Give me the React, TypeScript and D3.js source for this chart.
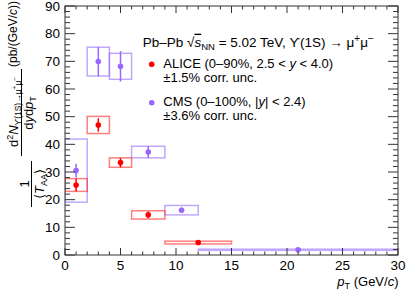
import React from 'react';
import * as d3 from 'd3';

// ALICE 0-90%, 2.5 < y < 4.0
const aliceLo = [0, 2, 4, 6, 9];
const aliceHi = [2, 4, 6, 9, 15];
const aliceX = [1, 3, 5, 7.5, 12];
const aliceY = [25.3, 47.0, 33.4, 14.5, 4.5];
const aliceStat = [2.3, 2.4, 1.7, 1.2, 0.3];
const aliceSys = [2.3, 3.1, 1.7, 1.5, 0.5];

// CMS 0-100%, |y| < 2.4
const cmsLo = [0, 2, 4, 6, 9, 12];
const cmsHi = [2, 4, 6, 9, 12, 30];
const cmsX = [1, 3, 5, 7.5, 10.5, 21];
const cmsY = [30.5, 69.9, 68.2, 37.2, 16.2, 1.9];
const cmsStat = [2.5, 5.3, 5.5, 2.1, 1.0, 0.2];
const cmsSys = [11.4, 5.2, 4.7, 2.1, 1.7, 0.2];

const xTicks = [0, 5, 10, 15, 20, 25, 30];
const yTicks = [0, 10, 20, 30, 40, 50, 60, 70, 80, 90];

const W = 407, H = 294;
const L = 65, R = 398, T = 6, B = 255;
const FONT = '"Liberation Sans", Arial, Helvetica, sans-serif';
const RED = '#ff0000';
const RED_BOX = 'rgba(255,40,40,0.6)';
const PUR = '#9966ff';
const PUR_BOX = 'rgba(150,110,255,0.6)';

function Series({ lo, hi, xs, ys, stat, sys, color, boxColor, x, y }) {
  return (
    <g>
      {xs.map((_, i) => (
        <rect key={'b' + i} x={x(lo[i])} y={y(ys[i] + sys[i])}
          width={x(hi[i]) - x(lo[i])} height={Math.max(y(ys[i] - sys[i]) - y(ys[i] + sys[i]), 1)}
          fill="none" stroke={boxColor} strokeWidth={1.5} />
      ))}
      {xs.map((xv, i) => (
        <line key={'e' + i} x1={x(xv)} x2={x(xv)} y1={y(ys[i] + stat[i])} y2={y(ys[i] - stat[i])}
          stroke={color} strokeWidth={1.5} />
      ))}
      {xs.map((xv, i) => (
        <circle key={'m' + i} cx={x(xv)} cy={y(ys[i])} r={2.8} fill={color} />
      ))}
    </g>
  );
}

export default function App() {
  const x = d3.scaleLinear().domain([0, 30]).range([L, R]);
  const y = d3.scaleLinear().domain([0, 90]).range([B, T]);
  const xMinor = d3.range(0, 31, 1);
  const yMinor = d3.range(0, 91, 2);
  const axisColor = '#333';

  return (
    <svg width={W} height={H} style={{ position: 'absolute', left: 0, top: 0, background: '#fff' }}
      fontFamily={FONT}>
      <defs>
        <clipPath id="frame"><rect x={L} y={T} width={R - L} height={B - T} /></clipPath>
      </defs>

      {/* data */}
      <g clipPath="url(#frame)">
        <Series lo={cmsLo} hi={cmsHi} xs={cmsX} ys={cmsY} stat={cmsStat} sys={cmsSys}
          color={PUR} boxColor={PUR_BOX} x={x} y={y} />
        <Series lo={aliceLo} hi={aliceHi} xs={aliceX} ys={aliceY} stat={aliceStat} sys={aliceSys}
          color={RED} boxColor={RED_BOX} x={x} y={y} />
      </g>

      {/* ticks, inside on all four sides */}
      <g stroke={axisColor} strokeWidth={1}>
        {xMinor.map(v => {
          const len = v % 5 === 0 ? 7 : 3.5;
          return (
            <g key={'xt' + v}>
              <line x1={x(v)} x2={x(v)} y1={B} y2={B - len} />
              <line x1={x(v)} x2={x(v)} y1={T} y2={T + len} />
            </g>
          );
        })}
        {yMinor.map(v => {
          const len = v % 10 === 0 ? 10 : 5;
          return (
            <g key={'yt' + v}>
              <line x1={L} x2={L + len} y1={y(v)} y2={y(v)} />
              <line x1={R} x2={R - len} y1={y(v)} y2={y(v)} />
            </g>
          );
        })}
        <rect x={L} y={T} width={R - L} height={B - T} fill="none" />
      </g>

      {/* tick labels */}
      <g fontSize={13.5} fill="#000">
        {xTicks.map(v => (
          <text key={'xl' + v} x={x(v)} y={270} textAnchor="middle">{v}</text>
        ))}
        {yTicks.map(v => (
          <text key={'yl' + v} x={60} y={y(v) + 4.8} textAnchor="end">{v}</text>
        ))}
      </g>

      {/* x title */}
      <text x={398.5} y={285.5} fontSize={13} textAnchor="end">
        <tspan fontStyle="italic">p</tspan>
        <tspan fontSize={9} dy={3}>T</tspan>
        <tspan dy={-3}> (GeV/</tspan>
        <tspan fontStyle="italic">c</tspan>
        <tspan>)</tspan>
      </text>

      {/* y title, rotated */}
      <g transform="rotate(-90)">
        <text x={-184} y={29} fontSize={13} textAnchor="middle">1</text>
        <line x1={-207} x2={-161} y1={31.5} y2={31.5} stroke="#000" strokeWidth={1} />
        <text x={-184} y={43.5} fontSize={13} textAnchor="middle">
          <tspan>{'\u27E8'}</tspan>
          <tspan fontStyle="italic">T</tspan>
          <tspan fontSize={9} dy={3}>AA</tspan>
          <tspan dy={-3}>{'\u27E9'}</tspan>
        </text>
        <text x={-112} y={18} fontSize={13} textAnchor="middle">
          <tspan>d</tspan>
          <tspan fontSize={9} dy={-5}>2</tspan>
          <tspan fontStyle="italic" dy={5}>N</tspan>
          <tspan fontSize={8.5} dy={3}>{'\u03D2(1S)\u2192\u03BC'}</tspan>
          <tspan fontSize={6.5} dy={-4}>+</tspan>
          <tspan fontSize={8.5} dy={4}>{'\u03BC'}</tspan>
          <tspan fontSize={6.5} dy={-4}>{'\u2212'}</tspan>
        </text>
        <line x1={-156} x2={-69} y1={21.5} y2={21.5} stroke="#000" strokeWidth={1} />
        <text x={-113} y={33} fontSize={13} textAnchor="middle">
          <tspan>d</tspan>
          <tspan fontStyle="italic">y</tspan>
          <tspan>d</tspan>
          <tspan fontStyle="italic">p</tspan>
          <tspan fontSize={9} dy={3}>T</tspan>
        </text>
        <text x={-67} y={17} fontSize={12} textAnchor="start">
          <tspan>(pb/(GeV/</tspan>
          <tspan fontStyle="italic">c</tspan>
          <tspan>))</tspan>
        </text>
      </g>

      {/* legend */}
      <g fontSize={13}>
        <text x={142.7} y={46.7} fontSize={13.5}>
          <tspan>Pb–Pb </tspan>
          <tspan>{'\u221A'}</tspan>
          <tspan fontStyle="italic" textDecoration="overline">s</tspan>
          <tspan fontSize={9.5} dy={3}>NN</tspan>
          <tspan dy={-3}>{' = 5.02 TeV, \u03D2(1S) \u2192 \u03BC'}</tspan>
          <tspan fontSize={10} dy={-5}>+</tspan>
          <tspan dy={5}>{'\u03BC'}</tspan>
          <tspan fontSize={10} dy={-5}>{'\u2212'}</tspan>
        </text>
        <circle cx={151.7} cy={64.3} r={2.8} fill={RED} />
        <text x={163.3} y={67.7}>
          <tspan>ALICE (0–90%, 2.5 &lt; </tspan>
          <tspan fontStyle="italic">y</tspan>
          <tspan> &lt; 4.0)</tspan>
        </text>
        <text x={163.3} y={81.7}>±1.5% corr. unc.</text>
        <circle cx={151.7} cy={102.7} r={2.8} fill={PUR} />
        <text x={163.3} y={106}>
          <tspan>CMS (0–100%, |</tspan>
          <tspan fontStyle="italic">y</tspan>
          <tspan>| &lt; 2.4)</tspan>
        </text>
        <text x={163.3} y={120}>±3.6% corr. unc.</text>
      </g>
    </svg>
  );
}
